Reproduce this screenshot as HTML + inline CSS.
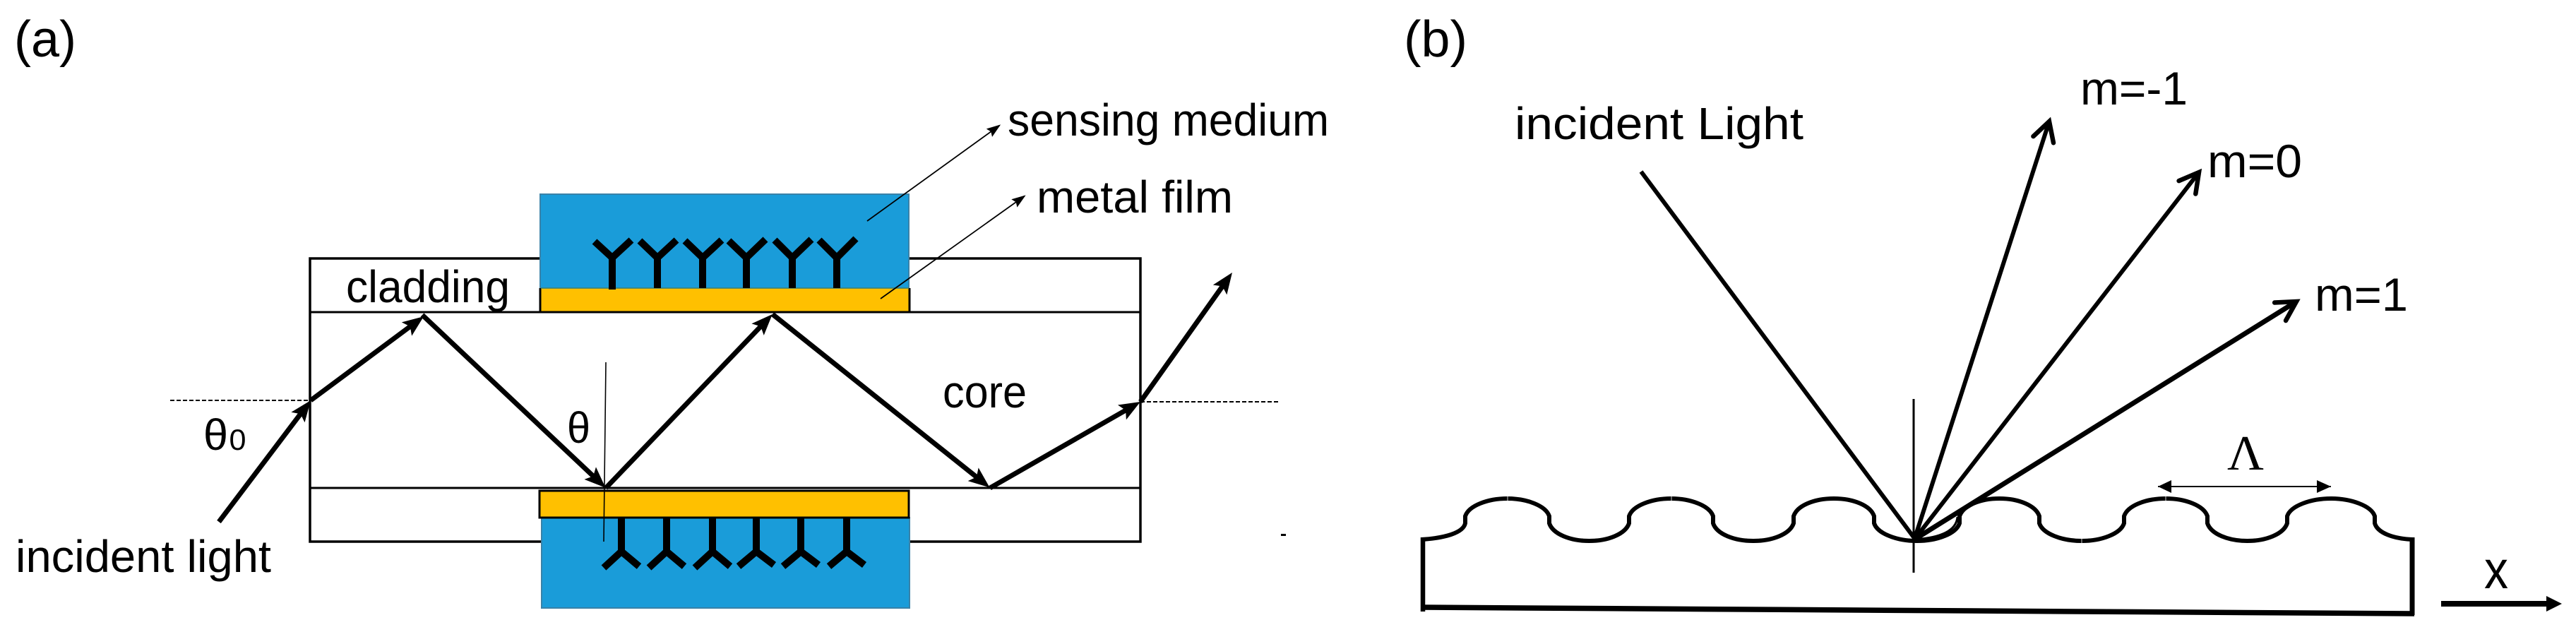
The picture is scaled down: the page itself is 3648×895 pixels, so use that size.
<!DOCTYPE html>
<html><head><meta charset="utf-8"><style>
html,body{margin:0;padding:0;background:#fff;width:3648px;height:895px;overflow:hidden}
svg{display:block}
text{font-family:"Liberation Sans",sans-serif;fill:#000}
</style></head><body>
<svg width="3648" height="895" viewBox="0 0 3648 895" xmlns="http://www.w3.org/2000/svg">
<defs>
<marker id="h" markerUnits="userSpaceOnUse" markerWidth="40" markerHeight="30" viewBox="0 0 40 30" refX="14" refY="15" orient="auto"><path d="M4 3 L34 15 L4 27 L10 15 Z" fill="#000"/></marker>
<marker id="t" markerUnits="userSpaceOnUse" markerWidth="24" markerHeight="18" viewBox="0 0 24 18" refX="18" refY="9" orient="auto"><path d="M0 2 L20 9 L0 16 L3 9 Z" fill="#000"/></marker>
<marker id="o" markerUnits="userSpaceOnUse" markerWidth="44" markerHeight="44" viewBox="0 0 44 44" refX="36" refY="22" orient="auto"><path d="M9 7 L36 22 L9 37" fill="none" stroke="#000" stroke-width="6.5" stroke-linecap="round"/></marker>
<marker id="d" markerUnits="userSpaceOnUse" markerWidth="24" markerHeight="24" viewBox="0 0 24 24" refX="20" refY="12" orient="auto"><path d="M0 3 L20 12 L0 21 Z" fill="#000"/></marker>
<marker id="x" markerUnits="userSpaceOnUse" markerWidth="26" markerHeight="28" viewBox="0 0 26 28" refX="4" refY="14" orient="auto"><path d="M4 3 L26 14 L4 25 Z" fill="#000"/></marker>
</defs>

<!-- panel a -->
<text x="20" y="80" font-size="72" textLength="88" lengthAdjust="spacingAndGlyphs">(a)</text>

<g fill="none" stroke="#000" stroke-width="3.5">
<rect x="439" y="366" width="1176" height="401" fill="#fff"/>
<line x1="439" y1="442" x2="1615" y2="442" stroke-width="3"/>
<line x1="439" y1="691" x2="1615" y2="691" stroke-width="3"/>
</g>

<!-- top stack -->
<rect x="765" y="275" width="522" height="134" fill="#1a9cd9" stroke="#3a82a8" stroke-width="2"/>
<rect x="765" y="408" width="523" height="34" fill="#ffc000"/>
<path d="M765 408V442M1288 408V442" stroke="#000" stroke-width="3" fill="none"/>
<rect x="766" y="407" width="521" height="2" fill="#3f7f70" opacity=".8"/>
<line x1="765" y1="442" x2="1288" y2="442" stroke="#000" stroke-width="3"/>
<g fill="none" stroke="#000" stroke-width="10">
<path d="M867 410V364M842 342L867 365L894 340"/>
<path d="M931 408V364M906 341L931 365L958 340"/>
<path d="M995 408V364M970 341L995 365L1022 340"/>
<path d="M1057 408V364M1032 341L1057 365L1084 339"/>
<path d="M1122 408V364M1097 340L1122 365L1149 339"/>
<path d="M1185 408V364M1160 340L1185 365L1212 338"/>
</g>

<!-- bottom stack -->
<rect x="767" y="733" width="521" height="128" fill="#1a9cd9" stroke="#3a82a8" stroke-width="2"/>
<rect x="764" y="695" width="523" height="38" fill="#ffc000" stroke="#000" stroke-width="3"/>
<g fill="none" stroke="#000" stroke-width="10">
<path d="M880 733V782M855 804L880 781L905 802"/>
<path d="M944 733V782M919 804L944 781L969 802"/>
<path d="M1009 733V782M984 804L1009 781L1034 802"/>
<path d="M1071 733V782M1046 802L1071 781L1096 800"/>
<path d="M1134 733V782M1109 802L1134 781L1159 800"/>
<path d="M1199 733V782M1174 802L1199 781L1224 800"/>
</g>

<!-- dashes + normal -->
<line x1="241" y1="567" x2="439" y2="567" stroke="#000" stroke-width="2" stroke-dasharray="6 3"/>
<line x1="1615" y1="569" x2="1813" y2="569" stroke="#000" stroke-width="2" stroke-dasharray="6 3"/>
<line x1="858" y1="513" x2="855" y2="767" stroke="#000" stroke-width="1.6"/>
<rect x="1814" y="756" width="7" height="3" fill="#000"/>

<!-- rays -->
<g fill="none" stroke="#000" stroke-width="7">
<line x1="310" y1="739" x2="428" y2="583" marker-end="url(#h)"/>
<line x1="440" y1="567" x2="584" y2="460" marker-end="url(#h)"/>
<line x1="598" y1="446" x2="843" y2="677" marker-end="url(#h)"/>
<line x1="858" y1="691" x2="1080" y2="459.4" marker-end="url(#h)"/>
<line x1="1094" y1="445" x2="1386" y2="678" marker-end="url(#h)"/>
<line x1="1402" y1="691" x2="1597.6" y2="579" marker-end="url(#h)"/>
<line x1="1615" y1="569" x2="1733.4" y2="402.3" marker-end="url(#h)"/>
</g>

<!-- pointers -->
<line x1="1228" y1="313" x2="1415.5" y2="177.6" stroke="#000" stroke-width="1.8" marker-end="url(#t)"/>
<line x1="1247" y1="423" x2="1451" y2="277.5" stroke="#000" stroke-width="1.8" marker-end="url(#t)"/>

<text x="1427" y="192" font-size="64" textLength="455" lengthAdjust="spacingAndGlyphs">sensing medium</text>
<text x="1468" y="301" font-size="64" textLength="278" lengthAdjust="spacingAndGlyphs">metal film</text>
<text x="490" y="428" font-size="64" textLength="232" lengthAdjust="spacingAndGlyphs">cladding</text>
<text x="1335" y="577" font-size="64" textLength="119" lengthAdjust="spacingAndGlyphs">core</text>
<text x="288" y="637" font-size="62" textLength="35" lengthAdjust="spacingAndGlyphs">θ</text>
<text x="324.5" y="637" font-size="42" textLength="24" lengthAdjust="spacingAndGlyphs">0</text>
<text x="803" y="627" font-size="62" textLength="33" lengthAdjust="spacingAndGlyphs">θ</text>
<text x="22" y="810" font-size="64" textLength="362" lengthAdjust="spacingAndGlyphs">incident light</text>

<!-- panel b -->
<text x="1988" y="80" font-size="72" textLength="90" lengthAdjust="spacingAndGlyphs">(b)</text>
<text x="2145" y="197" font-size="64" textLength="409" lengthAdjust="spacingAndGlyphs">incident Light</text>
<text x="2946" y="148" font-size="66" textLength="152" lengthAdjust="spacingAndGlyphs">m=-1</text>
<text x="3126" y="251" font-size="66" textLength="134" lengthAdjust="spacingAndGlyphs">m=0</text>
<text x="3278" y="440" font-size="66" textLength="132" lengthAdjust="spacingAndGlyphs">m=1</text>
<text x="3518" y="833" font-size="76" textLength="34" lengthAdjust="spacingAndGlyphs">x</text>
<text x="3154" y="665" font-size="70" textLength="52" lengthAdjust="spacingAndGlyphs" style="font-family:'Liberation Serif',serif">Λ</text>

<!-- grating -->
<g fill="none" stroke="#000">
<path stroke-width="6" d="M2013 764 C2045 762 2072 755 2075 741 L2075 731
C2080 716 2107 706 2134.5 706 C2162 706 2189 716 2194 731 L2194 741
C2199 756 2223 766 2250.5 766 C2278 766 2302 756 2307 741 L2307 731
C2312 716 2339 706 2366.5 706 C2394 706 2421 716 2426 731 L2426 741
C2431 756 2455 766 2483 766 C2511 766 2535 756 2540 741 L2540 731
C2545 716 2569 706 2597 706 C2625 706 2649 716 2654 731 L2654 741
C2659 756 2687 766 2714.5 766 C2743 766 2770 756 2775 741 L2775 731
C2780 716 2804 706 2831.5 706 C2859 706 2883 716 2888 731 L2888 741
C2893 756 2920 766 2948 766 C2976 766 3003 756 3008 741 L3008 731
C3013 716 3039 706 3067 706 C3095 706 3121 716 3126 731 L3126 741
C3131 756 3155 766 3182.5 766 C3210 766 3234 756 3239 741 L3239 731
C3244 716 3273 706 3301 706 C3329 706 3358 716 3363 731 L3363 741
C3367 755 3390 763 3417 764"/>
<path d="M2135 702V710M2367 702V710M3067 702V710M2948 762V770" stroke="#fff" stroke-width="1" opacity=".8"/>
<line x1="2015" y1="761" x2="2015" y2="866" stroke-width="6.5"/>
<line x1="3416" y1="761" x2="3416" y2="871" stroke-width="7"/>
<line x1="2012" y1="860" x2="3419" y2="869" stroke-width="7.5"/>
<line x1="2710" y1="565" x2="2710" y2="811" stroke-width="3"/>
<line x1="2324" y1="243" x2="2711" y2="762" stroke-width="6"/>
<line x1="2711" y1="764" x2="2902" y2="172" stroke-width="6" marker-end="url(#o)"/>
<line x1="2711" y1="764" x2="3114" y2="244" stroke-width="6" marker-end="url(#o)"/>
<line x1="2711" y1="764" x2="3252" y2="427" stroke-width="7" marker-end="url(#o)"/>
<path d="M2711 764 Q2770 760 2772 732" stroke-width="3"/>
<line x1="3056" y1="689" x2="3301" y2="689" stroke-width="2" marker-end="url(#d)"/>
<path d="M3056 689 L3075 680 V698 Z" fill="#000" stroke="none"/>
<line x1="3457" y1="855" x2="3606" y2="855" stroke-width="8" marker-end="url(#x)"/>
</g>
</svg>
</body></html>
